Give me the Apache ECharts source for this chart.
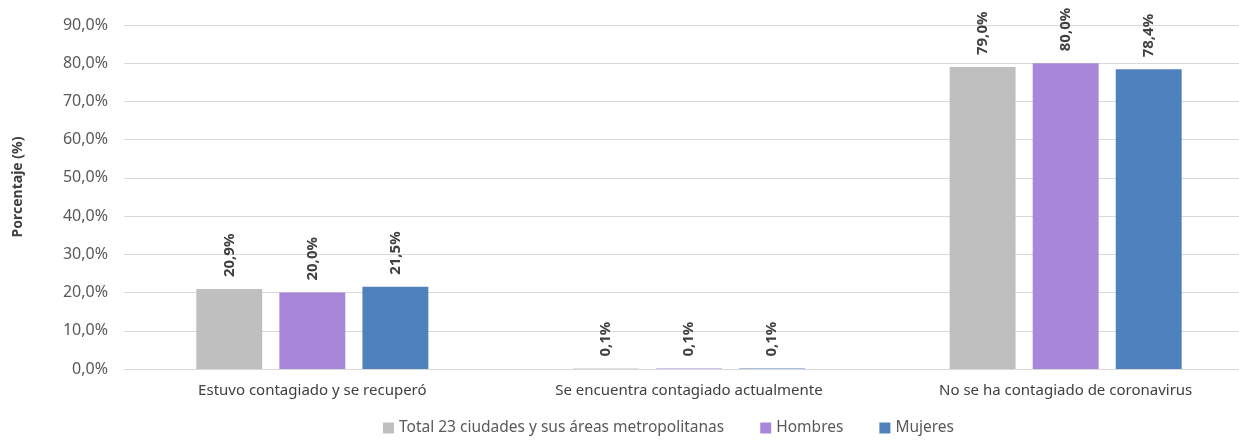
<!DOCTYPE html>
<html>
<head>
<meta charset="utf-8">
<script src="https://cdn.jsdelivr.net/npm/echarts@6/dist/echarts.min.js"></script>
<style>
  html, body { margin: 0; padding: 0; background: #fff; }
  #chart { width: 1239px; height: 441px; }
</style>
</head>
<body>
<div id="chart"></div>
<script>
const categories = ['Estuvo contagiado y se recuperó', 'Se encuentra contagiado actualmente', 'No se ha contagiado de coronavirus'];
const seriesNames = ['Total 23 ciudades y sus áreas metropolitanas', 'Hombres', 'Mujeres'];
const totalValues = [20.9, 0.1, 79.0];
const hombresValues = [20.0, 0.1, 80.0];
const mujeresValues = [21.5, 0.1, 78.4];
const colors = ['#BFBFBF', '#A886D9', '#4F81BD'];

const fmt = v => v.toFixed(1).replace('.', ',') + '%';
const font = '"Noto Sans", "Open Sans", sans-serif';

const mkSeries = (name, data, color) => ({
  name: name,
  type: 'bar',
  data: data,
  barWidth: '17.5%',
  barGap: '26%',
  itemStyle: { color: color },
  label: {
    show: true,
    position: 'top',
    rotate: 90,
    align: 'left',
    verticalAlign: 'middle',
    distance: 12,
    fontFamily: font,
    fontSize: 15,
    fontWeight: 'bold',
    color: '#404040',
    formatter: p => fmt(p.value)
  }
});

const chart = echarts.init(document.getElementById('chart'));
chart.setOption({
  animation: false,
  color: colors,
  // plot spans past the right edge like the original export
  grid: { left: 124, right: -15, top: 25, bottom: 72, outerBoundsMode: 'none' },
  legend: {
    bottom: 0,
    left: 378,
    itemWidth: 11,
    itemHeight: 11,
    itemGap: 36,
    icon: 'rect',
    textStyle: { fontFamily: font, fontSize: 15.5, color: '#595959' },
    data: seriesNames
  },
  xAxis: {
    type: 'category',
    data: categories,
    axisLine: { lineStyle: { color: '#D9D9D9' } },
    axisTick: { show: false },
    axisLabel: { fontFamily: font, fontSize: 15, color: '#404040', margin: 14 }
  },
  yAxis: {
    type: 'value',
    min: 0,
    max: 90,
    interval: 10,
    name: 'Porcentaje (%)',
    nameLocation: 'middle',
    nameGap: 99,
    nameRotate: 90,
    nameTextStyle: { fontFamily: font, fontSize: 14, fontWeight: 'bold', color: '#404040', padding: [0, 0, 0, 20] },
    axisLine: { show: false },
    axisTick: { show: false },
    splitLine: { lineStyle: { color: '#D9D9D9' } },
    axisLabel: { fontFamily: font, fontSize: 16, color: '#595959', margin: 16, formatter: v => fmt(v) }
  },
  series: [
    mkSeries(seriesNames[0], totalValues, colors[0]),
    mkSeries(seriesNames[1], hombresValues, colors[1]),
    mkSeries(seriesNames[2], mujeresValues, colors[2])
  ]
});
</script>
</body>
</html>
